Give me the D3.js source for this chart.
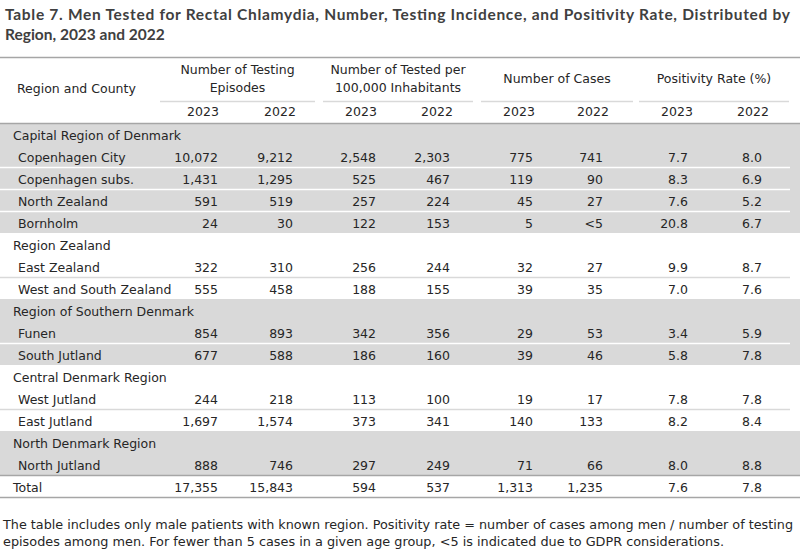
<!DOCTYPE html>
<html>
<head>
<meta charset="utf-8">
<script src="https://cdn.jsdelivr.net/npm/d3@7"></script>
<style>
  html, body { margin: 0; padding: 0; background: #fff; }
  svg { display: block; }
  text { font-family: "DejaVu Sans", sans-serif; fill: #262626; }
</style>
</head>
<body>
<div id="chart"></div>
<script>
// ---------- DATA ----------
const titleLines = [
  "Table 7. Men Tested for Rectal Chlamydia, Number, Testing Incidence, and Positivity Rate, Distributed by",
  "Region, 2023 and 2022"
];
const footnoteLines = [
  "The table includes only male patients with known region. Positivity rate = number of cases among men / number of testing",
  "episodes among men. For fewer than 5 cases in a given age group, <5 is indicated due to GDPR considerations."
];
const groupHeaders = [
  ["Number of Testing", "Episodes"],
  ["Number of Tested per", "100,000 Inhabitants"],
  ["Number of Cases"],
  ["Positivity Rate (%)"]
];
const years = ["2023", "2022"];

const regions = [
  "Capital Region of Denmark",
  "Region Zealand",
  "Region of Southern Denmark",
  "Central Denmark Region",
  "North Denmark Region"
];
const countyRegion = [0, 0, 0, 0, 1, 1, 2, 2, 3, 3, 4];
const counties = [
  "Copenhagen City", "Copenhagen subs.", "North Zealand", "Bornholm",
  "East Zealand", "West and South Zealand",
  "Funen", "South Jutland",
  "West Jutland", "East Jutland",
  "North Jutland"
];
const episodes2023 = [10072, 1431, 591, 24, 322, 555, 854, 677, 244, 1697, 888];
const episodes2022 = [9212, 1295, 519, 30, 310, 458, 893, 588, 218, 1574, 746];
const per100k2023  = [2548, 525, 257, 122, 256, 188, 342, 186, 113, 373, 297];
const per100k2022  = [2303, 467, 224, 153, 244, 155, 356, 160, 100, 341, 249];
const cases2023    = [775, 119, 45, 5, 32, 39, 29, 39, 19, 140, 71];
const cases2022    = [741, 90, 27, "<5", 27, 35, 53, 46, 17, 133, 66];
const rate2023     = [7.7, 8.3, 7.6, 20.8, 9.9, 7.0, 3.4, 5.8, 7.8, 8.2, 8.0];
const rate2022     = [8.0, 6.9, 5.2, 6.7, 8.7, 7.6, 5.9, 7.8, 7.8, 8.4, 8.8];
const totalLabel = "Total";
const totals = [17355, 15843, 594, 537, 1313, 1235, 7.6, 7.8];

// ---------- BUILD ROWS ----------
const fmtInt = d3.format(",");
const fmtRate = d3.format(".1f");
const colFormats = [fmtInt, fmtInt, fmtInt, fmtInt, fmtInt, fmtInt, fmtRate, fmtRate];
const fmtCell = (v, i) => (typeof v === "string" ? v : colFormats[i](v));

const rows = [];
regions.forEach((r, ri) => {
  rows.push({ type: "region", label: r, region: ri });
  counties.forEach((c, ci) => {
    if (countyRegion[ci] !== ri) return;
    const first = countyRegion.indexOf(ri) === ci;
    rows.push({
      type: "county", label: c, region: ri, first,
      values: [episodes2023[ci], episodes2022[ci], per100k2023[ci], per100k2022[ci],
               cases2023[ci], cases2022[ci], rate2023[ci], rate2022[ci]]
    });
  });
});
rows.push({ type: "total", label: totalLabel, values: totals });

// ---------- LAYOUT ----------
const W = 800, H = 557;
const svg = d3.select("#chart").append("svg").attr("width", W).attr("height", H);

const tableTop = 123, rowH = 22;
const y = d3.scaleBand()
  .domain(d3.range(rows.length))
  .range([tableTop, tableTop + rowH * rows.length])
  .paddingInner(0).paddingOuter(0);

// right edges of the eight value columns
const colRight = d3.scaleOrdinal().domain(d3.range(8))
  .range([218, 293, 376, 450, 533, 603, 688, 762]);
// centers of the year labels
const colCenter = d3.scaleOrdinal().domain(d3.range(8))
  .range([203, 280, 361, 437, 519, 593, 677, 753]);
// group spans
const groupSpan = d3.scaleOrdinal().domain(d3.range(4))
  .range([[160, 315], [323, 473], [481, 633], [639, 789]]);

const grayFill = "#d9d9d9";
const shadedRegions = new Set([0, 2, 4]);

// Title
const titleSel = svg.selectAll("text.title").data(titleLines).join("text")
  .attr("class", "title")
  .attr("x", 5)
  .attr("y", (d, i) => 20 + i * 20)
  .attr("font-size", 15.5)
  .attr("font-weight", "bold")
  .style("font-family", "Lato, 'DejaVu Sans', sans-serif")
  .style("fill", "#404040")
  .text(d => d);
// stretch the first line to the reference width only if it fits naturally
titleSel.filter((d, i) => i === 0).each(function () {
  const w = this.getComputedTextLength();
  if (w < 785) {
    d3.select(this).attr("textLength", 785).attr("lengthAdjust", "spacing");
  }
});

// Row backgrounds
svg.selectAll("rect.band").data(rows.filter(r => r.type !== "total" && shadedRegions.has(r.region))).join("rect")
  .attr("class", "band")
  .attr("x", 0)
  .attr("y", d => y(rows.indexOf(d)))
  .attr("width", W)
  .attr("height", y.bandwidth())
  .attr("fill", grayFill);

// Separators between county rows
svg.selectAll("line.sep").data(rows.filter(r => r.type === "county" && !r.first)).join("line")
  .attr("class", "sep")
  .attr("x1", 0).attr("x2", 790)
  .attr("y1", d => y(rows.indexOf(d)) + 0.5)
  .attr("y2", d => y(rows.indexOf(d)) + 0.5)
  .attr("stroke", d => shadedRegions.has(d.region) ? "#ffffff" : grayFill)
  .attr("stroke-width", 1.5);

// Main rules
const ruleColor = "#a6a6a6";
const rules = [57, tableTop, y(rows.length - 1), y(rows.length - 1) + rowH];
svg.selectAll("line.rule").data(rules).join("line")
  .attr("class", "rule")
  .attr("x1", 0).attr("x2", W)
  .attr("y1", d => d + 0.5).attr("y2", d => d + 0.5)
  .attr("stroke", ruleColor)
  .attr("stroke-width", 1.5);

// Header
const hdrSize = 12.5;
svg.append("text")
  .attr("x", 17).attr("y", 93)
  .attr("font-size", hdrSize)
  .text("Region and County");

groupHeaders.forEach((lines, gi) => {
  const [a, b] = groupSpan(gi);
  const cx = (a + b) / 2;
  const base = lines.length === 2 ? 74 : 83;
  svg.selectAll(null).data(lines).join("text")
    .attr("x", cx)
    .attr("y", (d, i) => base + i * 18)
    .attr("text-anchor", "middle")
    .attr("font-size", hdrSize)
    .text(d => d);
  svg.append("line")
    .attr("x1", a).attr("x2", b)
    .attr("y1", 101.5).attr("y2", 101.5)
    .attr("stroke", grayFill).attr("stroke-width", 1.5);
});

svg.selectAll("text.year").data(d3.range(8)).join("text")
  .attr("class", "year")
  .attr("x", i => colCenter(i))
  .attr("y", 116)
  .attr("text-anchor", "middle")
  .attr("font-size", hdrSize)
  .text(i => years[i % 2]);

// Body
const bodySize = 12.5;
const rowG = svg.selectAll("g.row").data(rows).join("g")
  .attr("class", "row")
  .attr("transform", (d, i) => `translate(0,${y(i) + 16.5})`);

rowG.append("text")
  .attr("x", d => d.type === "county" ? 18 : 13)
  .attr("y", 0)
  .attr("font-size", bodySize)
  .text(d => d.label);

rowG.filter(d => d.values).selectAll("text.val")
  .data(d => d.values.map((v, i) => ({ v, i })))
  .join("text")
  .attr("class", "val")
  .attr("x", d => colRight(d.i))
  .attr("y", 0)
  .attr("text-anchor", "end")
  .attr("font-size", bodySize)
  .text(d => fmtCell(d.v, d.i));

// Footnote
svg.selectAll("text.foot").data(footnoteLines).join("text")
  .attr("class", "foot")
  .attr("x", 3)
  .attr("y", (d, i) => 529 + i * 17)
  .attr("font-size", 12.5)
  .attr("textLength", (d, i) => i === 0 ? 790 : 721)
  .attr("lengthAdjust", "spacingAndGlyphs")
  .text(d => d);
</script>
</body>
</html>
